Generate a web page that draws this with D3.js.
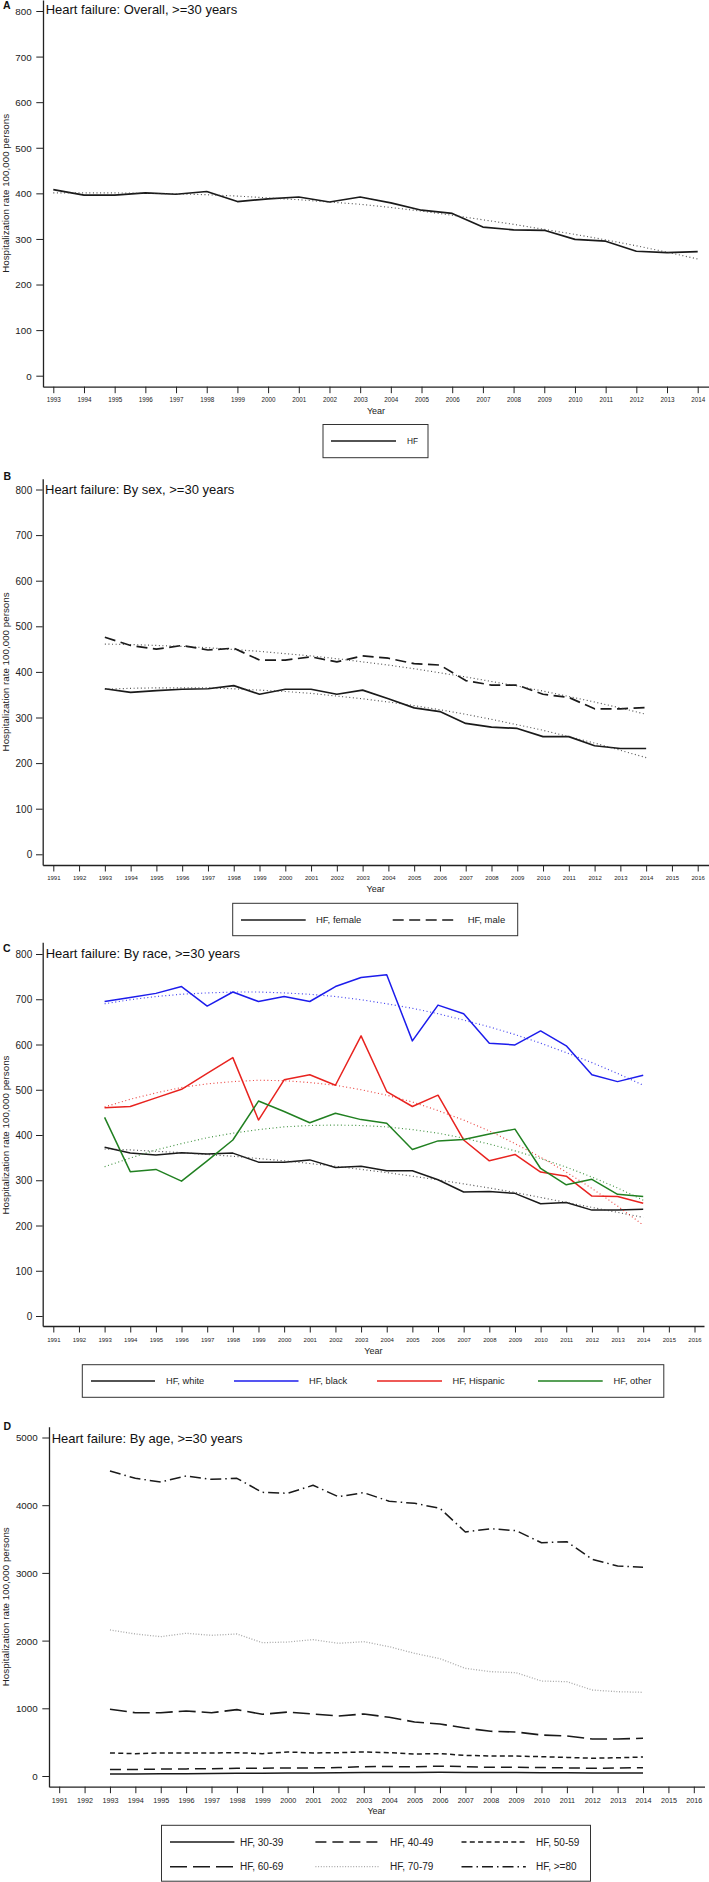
<!DOCTYPE html>
<html><head><meta charset="utf-8">
<script src="https://cdn.jsdelivr.net/npm/d3@7"></script>
<style>body{margin:0;background:#fff;} svg{display:block;}</style>
</head><body>
<svg id="chart" width="709" height="1882"></svg>
<script>
// ---------------- DATA ----------------
const years = [1993,1994,1995,1996,1997,1998,1999,2000,2001,2002,2003,2004,2005,2006,2007,2008,2009,2010,2011,2012,2013,2014];
const yearTicksA = [1993,1994,1995,1996,1997,1998,1999,2000,2001,2002,2003,2004,2005,2006,2007,2008,2009,2010,2011,2012,2013,2014];
const yearTicksWide = [1991,1992,1993,1994,1995,1996,1997,1998,1999,2000,2001,2002,2003,2004,2005,2006,2007,2008,2009,2010,2011,2012,2013,2014,2015,2016];
const rateTicks = [0,100,200,300,400,500,600,700,800];
const ageTicks = [0,1000,2000,3000,4000,5000];

// Panel A
const overallHF  = [408,396,396,401,398,404,382,388,392,381,392,379,363,356,326,320,319,299,295,273,270,272];
const overallFit = [401,401,401,400,399,397,394,390,386,381,376,369,361,352,342,332,321,310,298,285,271,256];
// Panel B
const femaleHF  = [363,355,359,362,363,370,351,362,362,351,360,341,321,313,287,279,276,258,258,238,232,232];
const femaleFit = [362,364,365,365,365,363,360,357,353,347,341,334,326,317,307,296,284,272,258,244,228,212];
const maleHF    = [476,458,450,458,448,452,426,426,433,422,435,430,418,415,381,371,371,351,344,319,319,322];
const maleFit   = [461,460,458,456,453,449,445,440,435,429,422,415,407,398,389,379,369,358,346,334,321,307];
// Panel C
const whiteHF     = [373,360,356,361,358,360,340,340,345,328,331,321,321,301,274,275,271,248,251,234,234,236];
const whiteFit    = [369,367,364,361,357,353,348,343,337,331,324,317,309,301,292,283,273,262,251,240,229,218];
const blackHF     = [695,704,713,728,685,716,695,706,695,728,748,754,608,687,668,603,599,630,597,533,518,532];
const blackFit    = [690,699,706,711,714,716,716,714,711,706,699,690,680,668,654,639,622,603,582,560,536,510];
const hispanicHF  = [460,463,482,501,536,571,433,522,533,510,619,496,463,488,389,343,357,318,309,265,264,249];
const hispanicFit = [462,479,493,505,513,518,521,520,516,510,500,488,473,454,433,409,381,351,318,282,243,201];
const otherHF     = [439,319,324,298,343,389,475,452,427,448,434,426,368,387,390,402,413,326,290,302,269,264];
const otherFit    = [330,349,367,381,394,404,412,418,421,422,421,418,412,404,393,380,365,348,329,307,283,256];
// Panel D
const age3039 = [28,30,32,35,37,40,42,44,45,47,50,52,53,55,52,50,50,49,48,46,45,45];
const age4049 = [95,97,102,105,108,113,115,118,120,125,138,140,135,145,138,128,128,125,120,115,118,123];
const age5059 = [340,330,340,340,340,345,330,355,340,345,355,345,325,330,305,295,295,285,275,262,270,280];
const age6069 = [985,935,935,960,935,980,911,945,916,886,916,867,798,768,709,660,650,606,591,547,547,557];
const age7079 = [2157,2098,2058,2108,2078,2098,1969,1979,2014,1960,1984,1910,1812,1733,1590,1541,1526,1403,1393,1270,1245,1236];
const age80   = [4505,4397,4343,4431,4382,4397,4190,4176,4294,4126,4185,4058,4028,3954,3604,3653,3624,3446,3461,3201,3102,3083];

// ---------------- STYLES ----------------
const FONT = '"Liberation Sans", Arial, Helvetica, sans-serif';
const C_BLACK = "#1a1a1a", C_BLUE = "#1c1cec", C_RED = "#e8231f", C_GREEN = "#218021";
const sSolid = c => ({stroke:c, width:1.5, dash:null});
const sFit = c => ({stroke:c, width:1.15, dash:"1 2.6", opacity:0.85});

const svg = d3.select("#chart").attr("font-family", FONT);

function drawPanel(p) {
  const g = svg.append("g");
  const x = d3.scaleLinear().domain([p.xTicks[0], p.xTicks[p.xTicks.length-1]]).range([p.pxFirst, p.pxLast]);
  const y = d3.scaleLinear().domain([0, p.yTicks[p.yTicks.length-1]]).range([p.py0, p.pyTop]);
  const xAx = d3.scaleLinear().domain([x.invert(p.axisLeft), x.invert(p.axisRight)]).range([p.axisLeft, p.axisRight]);
  const yAx = d3.scaleLinear().domain([y.invert(p.axisBottom), y.invert(p.axisTop)]).range([p.axisBottom, p.axisTop]);

  // x axis
  const xa = g.append("g").attr("transform", `translate(0,${p.axisBottom})`)
    .call(d3.axisBottom(xAx).tickValues(p.xTicks).tickSize(6.5).tickSizeOuter(0).tickFormat(d3.format("d")));
  xa.attr("font-family", FONT);
  xa.select(".domain").attr("stroke", "#222").attr("stroke-width", 1.3);
  xa.selectAll(".tick line").attr("stroke", "#222").attr("stroke-width", 1);
  xa.selectAll(".tick text").attr("y", p.xLabOff).attr("dy", "0.35em")
    .attr("font-size", p.xFont).attr("fill", "#222");

  // y axis
  const ya = g.append("g").attr("transform", `translate(${p.axisLeft},0)`)
    .call(d3.axisLeft(yAx).tickValues(p.yTicks).tickSize(6.7).tickSizeOuter(0).tickFormat(d3.format("d")));
  ya.attr("font-family", FONT);
  ya.select(".domain").attr("stroke", "#222").attr("stroke-width", 1.3);
  ya.selectAll(".tick line").attr("stroke", "#222").attr("stroke-width", 1);
  ya.selectAll(".tick text").attr("x", -p.yLabGap).attr("dy", "0.35em")
    .attr("font-size", p.yFont).attr("fill", "#222");

  // y title
  g.append("text").attr("transform", `translate(${p.yTitleX},${(p.py0 + p.pyTop) / 2}) rotate(-90)`)
    .attr("text-anchor", "middle").attr("font-size", 9.8).attr("fill", "#222")
    .text("Hospitalization rate 100,000 persons");
  // x title
  g.append("text").attr("x", p.yearX).attr("y", p.yearY).attr("text-anchor", "middle")
    .attr("font-size", 9).attr("fill", "#222").text("Year");
  // title
  g.append("text").attr("x", p.titleX).attr("y", p.titleY).attr("font-size", 13).attr("fill", "#111").text(p.title);
  // panel letter
  g.append("text").attr("x", p.letterX).attr("y", p.letterY).attr("font-size", 10.5)
    .attr("font-weight", "bold").attr("fill", "#111").text(p.letter);

  const line = d3.line().x((d, i) => x(years[i])).y(d => y(d));
  p.series.forEach(s => {
    g.append("path").attr("d", line(s.values)).attr("fill", "none")
      .attr("stroke", s.style.stroke).attr("stroke-width", s.style.width)
      .attr("stroke-dasharray", s.style.dash).attr("stroke-opacity", s.style.opacity || 1)
      .attr("stroke-linejoin", "round");
  });

  // legend
  const L = p.legend;
  g.append("rect").attr("x", L.box[0]).attr("y", L.box[1]).attr("width", L.box[2] - L.box[0])
    .attr("height", L.box[3] - L.box[1]).attr("fill", "#fff").attr("stroke", "#333").attr("stroke-width", 1);
  L.items.forEach(it => {
    g.append("line").attr("x1", it.x1).attr("x2", it.x2).attr("y1", it.y).attr("y2", it.y)
      .attr("stroke", it.style.stroke).attr("stroke-width", it.style.width)
      .attr("stroke-dasharray", it.style.dash).attr("stroke-opacity", it.style.opacity || 1);
    g.append("text").attr("x", it.tx).attr("y", it.y).attr("dy", "0.35em")
      .attr("font-size", L.font).attr("fill", "#222").text(it.label);
  });
}

// Panel A
const stHF = {stroke:C_BLACK, width:1.7, dash:null};
drawPanel({
  title: "Heart failure: Overall, >=30 years", letter: "A",
  xTicks: yearTicksA, yTicks: rateTicks,
  pxFirst: 53.3, pxLast: 697.7, py0: 375.7, pyTop: 11,
  axisLeft: 43, axisRight: 709, axisBottom: 386.7, axisTop: 0,
  xLabOff: 13.3, xFont: 6.3, yLabGap: 11.3, yFont: 9.8,
  yTitleX: 9, yearX: 376, yearY: 414, titleX: 45.7, titleY: 14, letterX: 3, letterY: 9,
  series: [
    {values: overallHF, style: stHF},
    {values: overallFit, style: sFit("#333")}
  ],
  legend: {box: [323, 424.5, 428, 457.7], font: 8.3, items: [
    {x1: 331, x2: 396, y: 441, tx: 407, label: "HF", style: stHF}
  ]}
});

// Panel B
const stMale = {stroke:C_BLACK, width:1.7, dash:"11 5.5"};
drawPanel({
  title: "Heart failure: By sex, >=30 years", letter: "B",
  xTicks: yearTicksWide, yTicks: rateTicks,
  pxFirst: 53.3, pxLast: 697.7, py0: 854.3, pyTop: 489.5,
  axisLeft: 42.7, axisRight: 709, axisBottom: 865, axisTop: 478.7,
  xLabOff: 12.7, xFont: 6, yLabGap: 10.5, yFont: 10,
  yTitleX: 9, yearX: 375.7, yearY: 892, titleX: 45, titleY: 494, letterX: 3.5, letterY: 480,
  series: [
    {values: femaleHF, style: stHF},
    {values: maleHF, style: stMale},
    {values: femaleFit, style: sFit("#333")},
    {values: maleFit, style: sFit("#333")}
  ],
  legend: {box: [232.7, 903.3, 517.7, 935.7], font: 9.5, items: [
    {x1: 241, x2: 305.7, y: 920, tx: 316, label: "HF, female", style: stHF},
    {x1: 392.7, x2: 457.3, y: 920, tx: 467.7, label: "HF, male", style: stMale}
  ]}
});

// Panel C
drawPanel({
  title: "Heart failure: By race, >=30 years", letter: "C",
  xTicks: yearTicksWide, yTicks: rateTicks,
  pxFirst: 53.3, pxLast: 694.5, py0: 1316, pyTop: 954,
  axisLeft: 42.7, axisRight: 704, axisBottom: 1326, axisTop: 942.3,
  xLabOff: 13.5, xFont: 6, yLabGap: 10.5, yFont: 10,
  yTitleX: 9, yearX: 373.3, yearY: 1354, titleX: 45.7, titleY: 957.5, letterX: 3, letterY: 952,
  series: [
    {values: whiteHF, style: sSolid(C_BLACK)},
    {values: blackHF, style: sSolid(C_BLUE)},
    {values: hispanicHF, style: sSolid(C_RED)},
    {values: otherHF, style: sSolid(C_GREEN)},
    {values: whiteFit, style: sFit("#333")},
    {values: blackFit, style: sFit(C_BLUE)},
    {values: hispanicFit, style: sFit(C_RED)},
    {values: otherFit, style: sFit(C_GREEN)}
  ],
  legend: {box: [82.3, 1364.7, 663.8, 1397.3], font: 9.3, items: [
    {x1: 91, x2: 155, y: 1381, tx: 166, label: "HF, white", style: sSolid(C_BLACK)},
    {x1: 234, x2: 298.5, y: 1381, tx: 309, label: "HF, black", style: sSolid(C_BLUE)},
    {x1: 377, x2: 442, y: 1381, tx: 452.5, label: "HF, Hispanic", style: sSolid(C_RED)},
    {x1: 538, x2: 602.7, y: 1381, tx: 613.6, label: "HF, other", style: sSolid(C_GREEN)}
  ]}
});

// Panel D
const st3039 = {stroke:C_BLACK, width:1.5, dash:null};
const st4049 = {stroke:C_BLACK, width:1.5, dash:"11 6"};
const st5059 = {stroke:C_BLACK, width:1.5, dash:"5 3.3"};
const st6069 = {stroke:C_BLACK, width:1.6, dash:"17 6"};
const st7079 = {stroke:"#a8a8a8", width:1.3, dash:"1 1.7"};
const st80   = {stroke:C_BLACK, width:1.5, dash:"11 4 1.5 4"};
drawPanel({
  title: "Heart failure: By age, >=30 years", letter: "D",
  xTicks: yearTicksWide, yTicks: ageTicks,
  pxFirst: 59.2, pxLast: 693.8, py0: 1776, pyTop: 1437.5,
  axisLeft: 49, axisRight: 704.5, axisBottom: 1786.7, axisTop: 1426.7,
  xLabOff: 13.6, xFont: 7.2, yLabGap: 11.3, yFont: 9.8,
  yTitleX: 9, yearX: 376.5, yearY: 1814, titleX: 51.7, titleY: 1442.5, letterX: 3.5, letterY: 1430,
  series: [
    {values: age3039, style: st3039},
    {values: age4049, style: st4049},
    {values: age5059, style: st5059},
    {values: age6069, style: st6069},
    {values: age7079, style: st7079},
    {values: age80, style: st80}
  ],
  legend: {box: [161.5, 1825.3, 590.5, 1881.2], font: 10, items: [
    {x1: 170, x2: 234.4, y: 1842, tx: 240, label: "HF, 30-39", style: st3039},
    {x1: 315.4, x2: 380, y: 1842, tx: 390, label: "HF, 40-49", style: st4049},
    {x1: 461.5, x2: 525.8, y: 1842, tx: 536, label: "HF, 50-59", style: st5059},
    {x1: 170, x2: 234.4, y: 1866.7, tx: 240, label: "HF, 60-69", style: st6069},
    {x1: 315.4, x2: 380, y: 1866.7, tx: 390, label: "HF, 70-79", style: st7079},
    {x1: 461.5, x2: 525.8, y: 1866.7, tx: 536, label: "HF, >=80", style: st80}
  ]}
});
</script>
</body></html>
